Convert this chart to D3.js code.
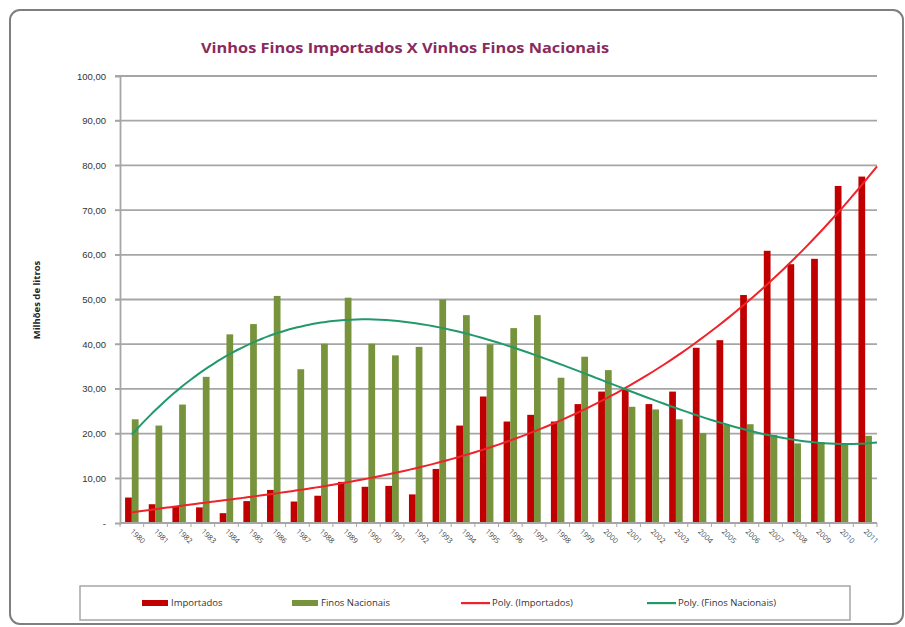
<!DOCTYPE html>
<html>
<head>
<meta charset="utf-8">
<script src="https://cdn.jsdelivr.net/npm/d3@7"></script>
<style>
  body { margin: 0; background: #fff; }
  svg { display: block; font-family: "Open Sans", sans-serif; }
</style>
</head>
<body>
<svg width="905" height="627"></svg>
<script>
// anos e séries (milhões de litros)
var anos = d3.range(1980, 2012);
var importados = [5.7, 4.2, 3.8, 3.5, 2.2, 4.9, 7.4, 4.8, 6.1, 9.2,
                  8.1, 8.3, 6.4, 12.1, 21.8, 28.3, 22.7, 24.2, 22.7, 26.6,
                  29.4, 29.9, 26.6, 29.4, 39.2, 40.9, 51.0, 60.9, 57.9, 59.1,
                  75.4, 77.5];
var nacionais = [23.2, 21.8, 26.5, 32.7, 42.2, 44.5, 50.8, 34.4, 40.1, 50.4,
                 40.1, 37.5, 39.4, 50.0, 46.5, 40.0, 43.6, 46.5, 32.5, 37.2,
                 34.2, 26.0, 25.4, 23.2, 20.1, 21.9, 22.1, 19.7, 17.8, 18.1,
                 17.8, 19.5];
var yTicks = d3.range(0, 101, 10);
var legendItems = ["Importados", "Finos Nacionais", "Poly. (Importados)", "Poly. (Finos Nacionais)"];

var corImp = "#c00000", corNac = "#77933c", corTrendImp = "#f0222a", corTrendNac = "#23996b";

var svg = d3.select("svg");

// moldura do gráfico
svg.append("rect")
    .attr("x", 10).attr("y", 10).attr("width", 893).attr("height", 614)
    .attr("rx", 10)
    .attr("fill", "#fff").attr("stroke", "#7f7f7f").attr("stroke-width", 2);

var margin = {left: 120, right: 28, top: 76, bottom: 104};
var x0 = d3.scaleBand().domain(anos).range([120, 877]).paddingInner(0.43).paddingOuter(0.215);
var x1 = d3.scaleBand().domain(["imp", "nac"]).range([0, x0.bandwidth()]);
var y = d3.scaleLinear().domain([0, 100]).range([523, 76]);

// linhas de grade
svg.append("g").selectAll("line")
    .data(yTicks.filter(function(d) { return d > 0; }))
    .enter().append("line")
    .attr("x1", 115).attr("x2", 877)
    .attr("y1", function(d) { return y(d); }).attr("y2", function(d) { return y(d); })
    .attr("stroke", "#a6a6a6").attr("stroke-width", 1.8);

// eixo y
var fmt = function(d) { return d === 0 ? "-" : d3.format(".2f")(d).replace(".", ","); };
var yAxis = svg.append("g")
    .attr("transform", "translate(120,0)")
    .call(d3.axisLeft(y).tickValues(yTicks).tickFormat(fmt).tickSize(5).tickPadding(9));
yAxis.select(".domain").attr("stroke", "#a6a6a6").attr("stroke-width", 1.8);
yAxis.selectAll(".tick line").attr("stroke", "#a6a6a6");
yAxis.selectAll("text").attr("font-size", 9.5).attr("fill", "#333");

// barras
var grupos = svg.append("g").selectAll("g")
    .data(anos)
    .enter().append("g")
    .attr("transform", function(d) { return "translate(" + x0(d) + ",0)"; });

grupos.append("rect")
    .attr("x", x1("imp")).attr("width", x1.bandwidth())
    .attr("y", function(d, i) { return y(importados[i]); })
    .attr("height", function(d, i) { return y(0) - y(importados[i]); })
    .attr("fill", corImp);

grupos.append("rect")
    .attr("x", x1("nac")).attr("width", x1.bandwidth())
    .attr("y", function(d, i) { return y(nacionais[i]); })
    .attr("height", function(d, i) { return y(0) - y(nacionais[i]); })
    .attr("fill", corNac);

// eixo x: marcas entre categorias
var step = x0.step();
svg.append("line")
    .attr("x1", 120).attr("x2", 877).attr("y1", y(0)).attr("y2", y(0))
    .attr("stroke", "#a6a6a6").attr("stroke-width", 1.8);
svg.append("g").selectAll("line")
    .data(d3.range(anos.length + 1))
    .enter().append("line")
    .attr("x1", function(i) { return 120 + i * step; })
    .attr("x2", function(i) { return 120 + i * step; })
    .attr("y1", y(0)).attr("y2", y(0) + 4)
    .attr("stroke", "#a6a6a6");

function centro(d) { return x0(d) + x0.bandwidth() / 2; }

svg.append("g").selectAll("text")
    .data(anos)
    .enter().append("text")
    .attr("transform", function(d) { return "translate(" + (centro(d) - 2) + "," + (y(0) + 9) + ") rotate(45)"; })
    .attr("font-size", 7.5).attr("fill", "#444")
    .text(function(d) { return d; });

// linhas de tendência polinomial (mínimos quadrados, como no Excel)
function polyFit(ys, ordem) {
  var n = ordem + 1, A = [], b = [];
  for (var r = 0; r < n; r++) {
    A.push([]);
    for (var c = 0; c < n; c++) A[r].push(d3.sum(ys, function(v, i) { return Math.pow(i, r + c); }));
    b.push(d3.sum(ys, function(v, i) { return v * Math.pow(i, r); }));
  }
  for (var k = 0; k < n; k++) {
    for (var r2 = k + 1; r2 < n; r2++) {
      var f = A[r2][k] / A[k][k];
      for (var c2 = k; c2 < n; c2++) A[r2][c2] -= f * A[k][c2];
      b[r2] -= f * b[k];
    }
  }
  var coef = new Array(n);
  for (var k2 = n - 1; k2 >= 0; k2--) {
    var s = b[k2];
    for (var c3 = k2 + 1; c3 < n; c3++) s -= A[k2][c3] * coef[c3];
    coef[k2] = s / A[k2][k2];
  }
  return function(t) { return d3.sum(coef, function(cf, p) { return cf * Math.pow(t, p); }); };
}

var xi = d3.scaleLinear().domain([0, anos.length - 1]).range([centro(anos[0]), centro(anos[anos.length - 1])]);
var ts = d3.range(0, anos.length - 0.5 + 0.001, 0.25);

function desenhaTendencia(serie, ordem, cor) {
  var fn = polyFit(serie, ordem);
  svg.append("path")
      .datum(ts)
      .attr("fill", "none").attr("stroke", cor).attr("stroke-width", 2)
      .attr("d", d3.line().curve(d3.curveMonotoneX)
          .x(function(t) { return xi(t); })
          .y(function(t) { return y(fn(t)); }));
}
desenhaTendencia(importados, 3, corTrendImp);
desenhaTendencia(nacionais, 3, corTrendNac);

// títulos
svg.append("text")
    .attr("x", 405).attr("y", 53).attr("text-anchor", "middle")
    .attr("font-size", 14.5).attr("font-weight", "bold").attr("fill", "#8a2a5c")
    .attr("textLength", 408).attr("lengthAdjust", "spacingAndGlyphs")
    .text("Vinhos Finos Importados X Vinhos Finos Nacionais");

svg.append("text")
    .attr("transform", "translate(40,300) rotate(-90)")
    .attr("text-anchor", "middle")
    .attr("font-size", 9.5).attr("font-weight", "bold").attr("fill", "#222")
    .text("Milhões de litros");

// legenda
svg.append("rect")
    .attr("x", 80).attr("y", 586).attr("width", 770).attr("height", 34)
    .attr("fill", "#fff").attr("stroke", "#a6a6a6").attr("stroke-width", 1.5);

var legX = [142, 292, 461, 647];
var legCores = [corImp, corNac, corTrendImp, corTrendNac];
var leg = svg.append("g").selectAll("g")
    .data(legendItems)
    .enter().append("g")
    .attr("transform", function(d, i) { return "translate(" + legX[i] + ",603)"; });

leg.append("rect")
    .attr("x", 0).attr("width", function(d, i) { return i < 2 ? 26 : 29; })
    .attr("y", function(d, i) { return i < 2 ? -3 : -1; })
    .attr("height", function(d, i) { return i < 2 ? 6 : 2.2; })
    .attr("fill", function(d, i) { return legCores[i]; });

leg.append("text")
    .attr("x", function(d, i) { return i < 2 ? 29 : 31; })
    .attr("dy", "0.35em")
    .attr("font-size", 9.5).attr("fill", "#333")
    .text(function(d) { return d; });
</script>
</body>
</html>
